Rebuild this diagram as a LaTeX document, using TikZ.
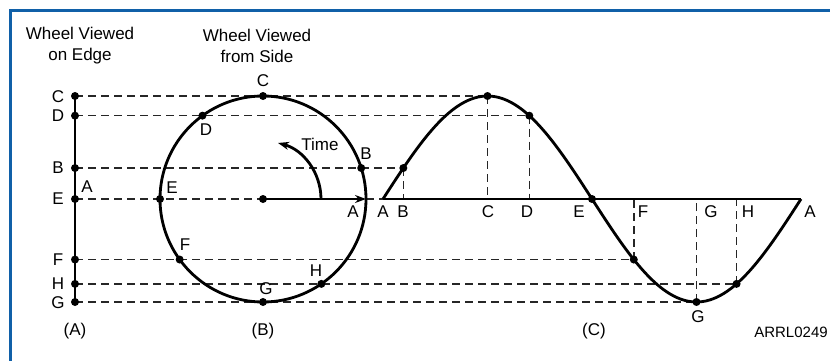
\documentclass[tikz,border=0pt]{standalone}
\usepackage{fontspec}
\setmainfont{Liberation Sans}
\usetikzlibrary{arrows.meta,calc}
\definecolor{frameblue}{RGB}{16,96,168}
\begin{document}
\begin{tikzpicture}[x=1pt,y=-1pt,
  thickline/.style={line width=2.8pt},
  dashline/.style={line width=1.4pt,dash pattern=on 8pt off 5pt,black!85},
  dot/.style={circle,fill=black,inner sep=0pt,minimum size=8pt},
  lbl/.style={inner sep=0pt,font=\fontsize{17}{21}\selectfont},
  head/.style={inner sep=0pt,align=center,font=\fontsize{17}{21}\selectfont},
]
\useasboundingbox (0,0) rectangle (830,361);
\draw[frameblue,line width=3pt] (10,361) -- (10,10.5) -- (830,10.5);

% headings
\node[head] (h1) at (80,46) {Wheel Viewed\\on Edge};
\node[head] (h2) at (257,46) {Wheel Viewed\\from Side};

% edge view points
\coordinate (eC) at (75,96);
\coordinate (eD) at ({75},{199-103*sin(126)});
\coordinate (eB) at ({75},{199-103*sin(17.5)});
\coordinate (eE) at (75,199);
\coordinate (eF) at ({75},{199-103*sin(216)});
\coordinate (eH) at ({75},{199-103*sin(304.5)});
\coordinate (eG) at (75,302);

% circle
\coordinate (O) at (263,199);
\coordinate (cA) at ($(O)+(0:103pt)$);
\coordinate (cB) at ($(O)+(17.5:103pt)$);
\coordinate (cC) at ($(O)+(90:103pt)$);
\coordinate (cD) at ($(O)+(126:103pt)$);
\coordinate (cE) at ($(O)+(180:103pt)$);
\coordinate (cF) at ($(O)+(216:103pt)$);
\coordinate (cG) at ($(O)+(270:103pt)$);
\coordinate (cH) at ($(O)+(304.5:103pt)$);
\coordinate (tS) at ($(O)+(0:58pt)$);

% sine points
\coordinate (sA0) at (383,199);
\coordinate (sA1) at (801,199);
\foreach \n/\a in {B/17.5,C/90,D/126,E/180,F/216,G/270,H/304.5}{
  \coordinate (s\n) at ({383+\a*1.161111},{199-103*sin(\a)});
  \coordinate (x\n) at ({383+\a*1.161111},199);
}

% dashed projection lines
\draw[dashline] (eC) -- (sC);
\draw[dashline] (eD) -- (sD);
\draw[dashline] (eB) -- (sB);
\draw[dashline] (eE) -- (O);
\draw[dashline] (eF) -- (sF);
\draw[dashline] (eH) -- (sH);
\draw[dashline] (eG) -- (sG);
\draw[dashline] (cA) -- (sA0);
\foreach \n in {B,C,D,F,G,H}{\draw[dashline] (s\n) -- (x\n);}

% solid lines
\draw[thickline] (eC) -- (eG);
\draw[thickline] (O) circle[radius=103pt];
\draw[thickline] (sA0) -- (sA1);
\draw[thickline,-{Stealth[length=11pt,width=8pt]}] (O) -- (cA);
\draw[thickline,-{Stealth[length=11pt,width=8pt]}] (tS) arc[start angle=0,end angle=75,radius=58pt];
\draw[thickline] plot[domain=0:360,samples=120,smooth] ({383+\x*1.161111},{199-103*sin(\x)});

% dots
\foreach \p in {eC,eD,eB,eE,eF,eH,eG,O,cB,cC,cD,cE,cF,cG,cH,sB,sC,sD,sE,sF,sG,sH}{
  \node[dot] (d\p) at (\p) {};
}

% edge labels
\node[lbl] (lC) at (58,97) {C};
\node[lbl] (lD) at (58,116) {D};
\node[lbl] (lB) at (58,168) {B};
\node[lbl] (lE) at (58,199) {E};
\node[lbl] (lF) at (58,260) {F};
\node[lbl] (lH) at (58,284) {H};
\node[lbl] (lG) at (58,303) {G};
\node[lbl] (lA) at (87,187) {A};

% circle labels
\node[lbl] (kC) at (263,81) {C};
\node[lbl] (kD) at (206,130) {D};
\node[lbl] (kB) at (366,154) {B};
\node[lbl] (kE) at (172,188) {E};
\node[lbl] (kF) at (185,245) {F};
\node[lbl] (kG) at (266,289) {G};
\node[lbl] (kH) at (316,271) {H};
\node[lbl] (kA) at (353,212) {A};
\node[lbl] (time) at (320,144) {Time};

% axis labels
\node[lbl] (aA0) at (383,212) {A};
\node[lbl] (aB) at (403,212) {B};
\node[lbl] (aC) at (488,212) {C};
\node[lbl] (aD) at (527,212) {D};
\node[lbl] (aE) at (579,212) {E};
\node[lbl] (aF) at (643,212) {F};
\node[lbl] (aG) at (711,212) {G};
\node[lbl] (aH) at (748,212) {H};
\node[lbl] (aA1) at (810,212) {A};
\node[lbl] (aGb) at (698,317) {G};

% captions
\node[lbl] (capA) at (75,331) {(A)};
\node[lbl] (capB) at (263,331) {(B)};
\node[lbl] (capC) at (594,331) {(C)};
\node[inner sep=0pt,font=\fontsize{15}{18}\selectfont] (ref) at (791,332) {ARRL0249};
\end{tikzpicture}
\end{document}
